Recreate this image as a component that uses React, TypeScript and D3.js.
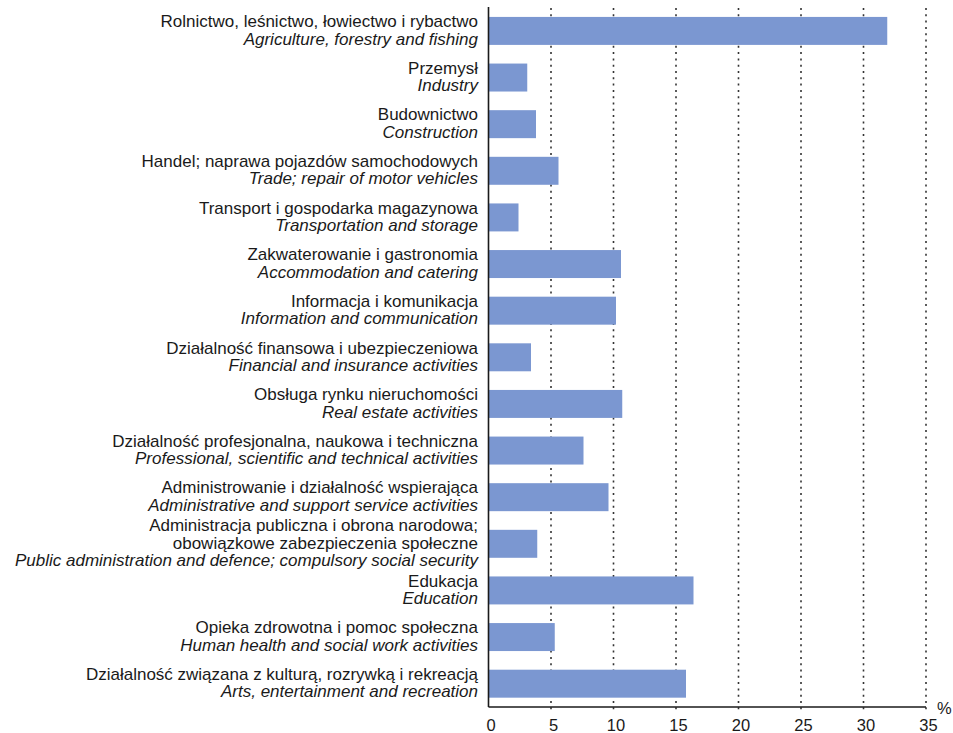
import React from 'react';
import * as d3 from 'd3';

const W = 953;
const H = 733;

const plLabels = [
  'Rolnictwo, leśnictwo, łowiectwo i rybactwo',
  'Przemysł',
  'Budownictwo',
  'Handel; naprawa pojazdów samochodowych',
  'Transport i gospodarka magazynowa',
  'Zakwaterowanie i gastronomia',
  'Informacja i komunikacja',
  'Działalność finansowa i ubezpieczeniowa',
  'Obsługa rynku nieruchomości',
  'Działalność profesjonalna, naukowa i techniczna',
  'Administrowanie i działalność wspierająca',
  'Administracja publiczna i obrona narodowa;\nobowiązkowe zabezpieczenia społeczne',
  'Edukacja',
  'Opieka zdrowotna i pomoc społeczna',
  'Działalność związana z kulturą, rozrywką i rekreacją',
];

const enLabels = [
  'Agriculture, forestry and fishing',
  'Industry',
  'Construction',
  'Trade; repair of motor vehicles',
  'Transportation and storage',
  'Accommodation and catering',
  'Information and communication',
  'Financial and insurance activities',
  'Real estate activities',
  'Professional, scientific and technical activities',
  'Administrative and support service activities',
  'Public administration and defence; compulsory social security',
  'Education',
  'Human health and social work activities',
  'Arts, entertainment and recreation',
];

const values = [31.9, 3.1, 3.8, 5.6, 2.4, 10.6, 10.2, 3.4, 10.7, 7.6, 9.6, 3.9, 16.4, 5.3, 15.8];

const xTicks = [0, 5, 10, 15, 20, 25, 30, 35];

const left = 488.5;
const right = 926;
const top = 7.6;
const bottom = 707;

export default function App() {
  const x = d3.scaleLinear().domain([0, 35]).range([left, right]);
  const y = d3
    .scaleBand<number>()
    .domain(d3.range(values.length))
    .range([top, bottom])
    .paddingInner(0.4)
    .paddingOuter(0.2);

  const lineH = 17.4;
  const font = '"Liberation Sans", Arial, sans-serif';

  return (
    <svg
      width={W}
      height={H}
      style={{ position: 'absolute', left: 0, top: 0, background: '#fff' }}
      fontFamily={font}
    >
      {/* grid */}
      {xTicks.slice(1).map(t => (
        <line
          key={'g' + t}
          x1={x(t)}
          x2={x(t)}
          y1={8}
          y2={bottom + 2.5}
          stroke="#333"
          strokeWidth={1.6}
          strokeDasharray="2 4.3"
        />
      ))}
      {/* bars */}
      {values.map((v, i) => (
        <rect
          key={'b' + i}
          x={x(0)}
          y={y(i)}
          width={x(v) - x(0)}
          height={y.bandwidth()}
          fill="#7b97d1"
        />
      ))}
      {/* axes */}
      <line x1={left} x2={left} y1={7} y2={bottom} stroke="#1a1a1a" strokeWidth={1.6} />
      <line x1={left} x2={right} y1={bottom} y2={bottom} stroke="#1a1a1a" strokeWidth={1.6} />
      {xTicks.map(t => (
        <text key={'t' + t} x={x(t) + 2.5} y={731} textAnchor="middle" fontSize={16.5} fill="#1a1a1a">
          {t}
        </text>
      ))}
      <text x={937} y={714} fontSize={16.5} fill="#1a1a1a">
        %
      </text>
      {/* labels */}
      {values.map((_, i) => {
        const lines = plLabels[i].split('\n').map(s => ({ s, it: false }));
        lines.push({ s: enLabels[i], it: true });
        const c = (y(i) as number) + y.bandwidth() / 2;
        const n = lines.length;
        return (
          <g key={'l' + i}>
            {lines.map((l, j) => (
              <text
                key={j}
                x={478}
                y={c + (j - (n - 1) / 2) * lineH + 5}
                textAnchor="end"
                fontSize={17}
                fontStyle={l.it ? 'italic' : 'normal'}
                fill="#1a1a1a"
              >
                {l.s}
              </text>
            ))}
          </g>
        );
      })}
    </svg>
  );
}
